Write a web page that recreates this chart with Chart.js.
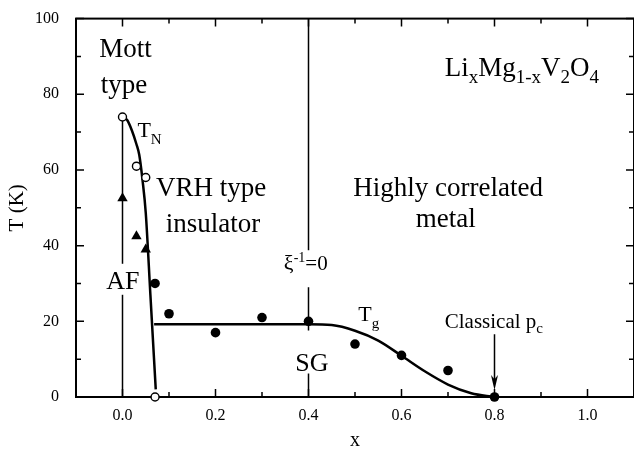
<!DOCTYPE html>
<html>
<head>
<meta charset="utf-8">
<script src="https://cdn.jsdelivr.net/npm/chart.js@4/dist/chart.umd.min.js"></script>
<style>
  html, body { margin: 0; padding: 0; background: #fff; overflow: hidden; }
  #wrap { width: 640px; height: 453px; position: relative; }
</style>
</head>
<body>
<div id="wrap"><canvas id="chart"></canvas></div>
<script>
/* =========================
   DATA
========================= */
// T_N, open circles
const openX = [0, 0.03, 0.05, 0.07];
const openT = [74, 61, 58, 0];
// filled triangles
const triX = [0, 0.03, 0.05];
const triT = [52.5, 42.5, 39];
// filled circles (T_g etc.)
const dotX = [0.07, 0.1, 0.2, 0.3, 0.4, 0.5, 0.6, 0.7, 0.8];
const dotT = [30, 22, 17, 21, 20, 14, 11, 7, 0];

// T_N phase boundary
const tnX = [0, 0.01, 0.02, 0.03, 0.036, 0.043, 0.05, 0.06, 0.0715];
const tnT = [74, 73.2, 70.5, 66.8, 64, 57.4, 48.7, 27, 2];
// T_g boundary (flat then falling to classical p_c)
const tgX = [0.068, 0.4, 0.45, 0.5, 0.55, 0.6, 0.65, 0.7, 0.75, 0.8];
const tgT = [19.2, 19.2, 19.0, 17.5, 14.9, 10.9, 6.8, 3.3, 1.0, 0];

// guide lines
const afX = [0, 0];
const afT = [0, 74];
const xiX = [0.4, 0.4];
const xiT = [0, 100];
const arrowX = [0.8, 0.8];
const arrowT = [16.6, 3.5];
const arrowHeadX = [0.8];
const arrowHeadT = [3.8];

// ticks
const xMajor = [0, 0.2, 0.4, 0.6, 0.8, 1.0];
const xMinor = [-0.1, 0.1, 0.3, 0.5, 0.7, 0.9, 1.1];
const yMajor = [0, 20, 40, 60, 80, 100];
const yMinor = [10, 30, 50, 70, 90];

// text labels: parts = [text, fontSize, baselineShift]
const notes = [
  { x: -0.05, y: 89.8, parts: [["Mott", 27, 0]] },
  { x: -0.047, y: 80.4, parts: [["type", 27, 0]] },
  { x: 0.032, y: 68.7, parts: [["T", 22, 0], ["N", 15, 7]] },
  { x: 0.072, y: 53.1, parts: [["VRH type", 27, 0]] },
  { x: 0.093, y: 43.5, parts: [["insulator", 27, 0]] },
  { x: 0.4965, y: 53.1, parts: [["Highly correlated", 27, 0]] },
  { x: 0.695, y: 45, align: "center", parts: [["metal", 27, 0]] },
  { x: 0.693, y: 84.7, parts: [["Li", 27, 0], ["x", 19, 7], ["Mg", 27, 0], ["1-x", 19, 7],
                               ["V", 27, 0], ["2", 19, 7], ["O", 27, 0], ["4", 19, 7]] },
  { x: -0.035, y: 28.6, clear: [25, 6], parts: [["AF", 26, 0]] },
  { x: 0.347, y: 33.5, clear: [20, 17], parts: [["ξ", 22, 0], ["-1", 14, -8], ["=0", 21, 0]] },
  { x: 0.3715, y: 7.0, clear: [40, 3], parts: [["SG", 26, 0]] },
  { x: 0.507, y: 20, parts: [["T", 22, 0], ["g", 15, 7]] },
  { x: 0.693, y: 18.2, parts: [["Classical p", 21, 0], ["c", 15, 5]] }
];

const FONT = "Liberation Serif";
Chart.defaults.font.family = FONT;
Chart.defaults.color = "#000";

/* =========================
   HELPERS
========================= */
const pts = (xs, ys) => xs.map((x, i) => ({ x: x, y: ys[i] }));

function arrowHead() {
  const c = document.createElement("canvas");
  c.width = 7; c.height = 15;
  const g = c.getContext("2d");
  g.fillStyle = "#000";
  g.beginPath();
  g.moveTo(0, 0); g.lineTo(3.5, 4); g.lineTo(7, 0); g.lineTo(3.5, 15);
  g.closePath(); g.fill();
  return c;
}

function richWidth(ctx, parts) {
  let w = 0;
  parts.forEach(p => { ctx.font = p[1] + "px '" + FONT + "'"; w += ctx.measureText(p[0]).width; });
  return w;
}

/* =========================
   PLUGINS: frame, inward ticks, notes
========================= */
const framePlugin = {
  id: "frame",
  beforeDatasetsDraw(chart) {
    const { ctx, chartArea: a, scales } = chart;
    ctx.save();
    ctx.strokeStyle = "#000";
    ctx.lineWidth = 2;
    ctx.strokeRect(a.left, a.top, a.right - a.left, a.bottom - a.top);
    ctx.lineWidth = 1.5;
    ctx.beginPath();
    const xt = (v, len) => {
      const p = scales.x.getPixelForValue(v);
      ctx.moveTo(p, a.bottom); ctx.lineTo(p, a.bottom - len);
      ctx.moveTo(p, a.top); ctx.lineTo(p, a.top + len);
    };
    const yt = (v, len) => {
      const p = scales.y.getPixelForValue(v);
      ctx.moveTo(a.left, p); ctx.lineTo(a.left + len, p);
      ctx.moveTo(a.right, p); ctx.lineTo(a.right - len, p);
    };
    xMajor.forEach(v => xt(v, 8));
    xMinor.forEach(v => xt(v, 5));
    yMajor.forEach(v => yt(v, 8));
    yMinor.forEach(v => yt(v, 5));
    ctx.stroke();
    ctx.restore();
  }
};

const notesPlugin = {
  id: "notes",
  afterDatasetsDraw(chart) {
    const { ctx, scales } = chart;
    ctx.save();
    ctx.textBaseline = "alphabetic";
    notes.forEach(n => {
      const w = richWidth(ctx, n.parts);
      let x = scales.x.getPixelForValue(n.x);
      const y = scales.y.getPixelForValue(n.y);
      if (n.align === "center") x -= w / 2;
      if (n.clear) {
        ctx.fillStyle = "#fff";
        ctx.fillRect(x - 2, y - n.clear[0], w + 4, n.clear[0] + n.clear[1]);
      }
      ctx.fillStyle = "#000";
      n.parts.forEach(p => {
        ctx.font = p[1] + "px '" + FONT + "'";
        ctx.fillText(p[0], x, y + p[2]);
        x += ctx.measureText(p[0]).width;
      });
    });
    ctx.restore();
  }
};

/* =========================
   CHART
========================= */
const lineDs = (data, width, extra) => Object.assign({
  type: "line",
  data: data,
  borderColor: "#000",
  borderWidth: width,
  pointRadius: 0,
  fill: false,
  clip: false
}, extra || {});

const ctx = document.getElementById("chart");
new Chart(ctx, {
  type: "scatter",
  data: {
    datasets: [
      { data: pts(dotX, dotT), pointRadius: 4.8, pointBackgroundColor: "#000", pointBorderColor: "#000", borderWidth: 0, pointBorderWidth: 0, clip: false, order: 1 },
      { data: pts(openX, openT), pointRadius: 4, pointBackgroundColor: "#fff", pointBorderColor: "#000", pointBorderWidth: 1.4, clip: false, order: 1 },
      { data: pts(triX, triT), pointStyle: "triangle", pointRadius: 6, pointBackgroundColor: "#000", pointBorderColor: "#000", pointBorderWidth: 0, clip: false, order: 1 },
      { data: pts(arrowHeadX, arrowHeadT), pointStyle: arrowHead(), clip: false, order: 2 },
      lineDs(pts(tnX, tnT), 2.5, { cubicInterpolationMode: "monotone", order: 3 }),
      lineDs(pts(tgX, tgT), 2.5, { cubicInterpolationMode: "monotone", order: 3 }),
      lineDs(pts(afX, afT), 1.5, { order: 4 }),
      lineDs(pts(xiX, xiT), 1.5, { order: 4 }),
      lineDs(pts(arrowX, arrowT), 1.5, { order: 4 })
    ]
  },
  options: {
    responsive: true,
    maintainAspectRatio: false,
    animation: false,
    events: [],
    layout: { padding: { top: 13, right: 3.3, left: 0, bottom: 0 } },
    plugins: { legend: { display: false }, tooltip: { enabled: false } },
    scales: {
      x: {
        type: "linear",
        min: -0.1,
        max: 1.1,
        grid: { display: false },
        border: { display: false },
        afterBuildTicks: s => { s.ticks = xMajor.map(v => ({ value: v })); },
        afterFit: s => { s.height = 56; },
        ticks: { padding: 1, font: { size: 16 }, callback: v => Number(v).toFixed(1), maxRotation: 0 },
        title: { display: true, text: "x", font: { size: 20 }, padding: { top: 0, bottom: 0 } }
      },
      y: {
        type: "linear",
        min: 0,
        max: 100,
        grid: { display: false },
        border: { display: false },
        afterBuildTicks: s => { s.ticks = yMajor.map(v => ({ value: v })); },
        afterFit: s => { s.width = 76; },
        ticks: { padding: 9, font: { size: 16 } },
        title: { display: true, text: "T (K)", font: { size: 21 }, padding: { top: 5, bottom: 0 } }
      }
    }
  },
  plugins: [framePlugin, notesPlugin]
});
</script>
</body>
</html>
